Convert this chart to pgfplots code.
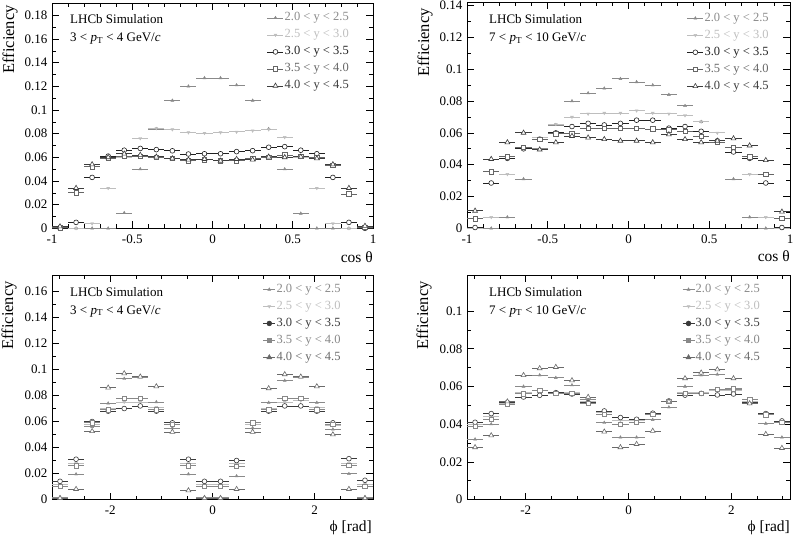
\documentclass[border=0pt]{standalone}
\usepackage{pgfplots}
\pgfplotsset{compat=1.18}
\usepackage{pgfplotstable}
\usepackage{fontspec}
\setmainfont{Liberation Serif}

\definecolor{cA}{HTML}{8A8A8A}
\definecolor{cB}{HTML}{BEBEBE}
\definecolor{cC}{HTML}{222222}
\definecolor{cD}{HTML}{666666}
\definecolor{cE}{HTML}{3C3C3C}
\definecolor{bC}{HTML}{3A3A3A}
\definecolor{bD}{HTML}{888888}
\definecolor{bE}{HTML}{6A6A6A}

\pgfplotstableread{
x A B C D E
-0.95 0 0 0 0.0005 0.0015
-0.85 0 0 0.005 0.030 0.034
-0.75 0 0.004 0.043 0.052 0.054
-0.65 0 0.034 0.061 0.059 0.060
-0.55 0.013 0.060 0.066 0.061 0.063
-0.45 0.050 0.076 0.0675 0.061 0.062
-0.35 0.084 0.0845 0.0665 0.060 0.0605
-0.25 0.108 0.0835 0.0655 0.059 0.059
-0.15 0.120 0.081 0.0628 0.057 0.058
-0.05 0.127 0.0805 0.063 0.058 0.0585
0.05 0.127 0.081 0.063 0.057 0.057
0.15 0.121 0.0815 0.0648 0.057 0.0585
0.25 0.108 0.0825 0.0656 0.059 0.058
0.35 0.084 0.0835 0.0685 0.060 0.0605
0.45 0.050 0.077 0.069 0.062 0.060
0.55 0.0125 0.060 0.066 0.061 0.0605
0.65 0 0.034 0.063 0.060 0.059
0.75 0 0.004 0.043 0.053 0.054
0.85 0 0 0.005 0.029 0.034
0.95 0 0 0 0.001 0.002
}\tabTL

\pgfplotstableread{
x A B C D E
-0.95 0 0 0.0005 0.006 0.011
-0.85 0 0.007 0.0285 0.0355 0.0435
-0.75 0.007 0.034 0.044 0.045 0.054
-0.65 0.031 0.050 0.050 0.051 0.060
-0.55 0.050 0.057 0.056 0.056 0.0495
-0.45 0.065 0.0655 0.060 0.0595 0.054
-0.35 0.080 0.070 0.064 0.0595 0.058
-0.25 0.085 0.072 0.066 0.063 0.057
-0.15 0.088 0.0725 0.065 0.063 0.056
-0.05 0.094 0.0725 0.066 0.063 0.055
0.05 0.092 0.074 0.068 0.063 0.055
0.15 0.090 0.0725 0.068 0.0625 0.054
0.25 0.084 0.072 0.063 0.062 0.059
0.35 0.077 0.071 0.064 0.061 0.056
0.45 0.067 0.067 0.061 0.058 0.054
0.55 0.054 0.060 0.055 0.054 0.055
0.65 0.031 0.051 0.048 0.051 0.0565
0.75 0.007 0.034 0.044 0.045 0.052
0.85 0 0.007 0.0285 0.034 0.0428
0.95 0 0 0.0005 0.0063 0.0104
}\tabTR

\pgfplotstableread{
x A B C D E
-2.9845 0.002 0.012 0.014 0.010 0.001
-2.6704 0.0195 0.028 0.031 0.026 0.008
-2.3562 0.056 0.058 0.060 0.059 0.0525
-2.0420 0.074 0.070 0.068 0.069 0.086
-1.7279 0.093 0.075 0.070 0.078 0.097
-1.4137 0.094 0.075 0.072 0.078 0.0945
-1.0996 0.075 0.071 0.068 0.069 0.087
-0.7854 0.055 0.058 0.059 0.058 0.052
-0.4712 0.0195 0.028 0.031 0.026 0.007
-0.1571 0.002 0.012 0.014 0.010 0.001
0.1571 0.002 0.012 0.014 0.010 0.001
0.4712 0.018 0.028 0.030 0.0255 0.008
0.7854 0.055 0.058 0.059 0.059 0.052
1.0996 0.0745 0.070 0.068 0.069 0.0855
1.4137 0.0915 0.075 0.072 0.078 0.0963
1.7279 0.094 0.076 0.072 0.078 0.0945
2.0420 0.0745 0.071 0.068 0.069 0.087
2.3562 0.054 0.057 0.059 0.058 0.050
2.6704 0.0197 0.028 0.0314 0.0265 0.008
2.9845 0.002 0.012 0.0148 0.010 0.001
}\tabBL

\pgfplotstableread{
x A B C D E
-2.9845 0.032 0.040 0.041 0.039 0.0277
-2.6704 0.040 0.044 0.0456 0.0426 0.034
-2.3562 0.052 0.051 0.0515 0.0505 0.052
-2.0420 0.060 0.057 0.0544 0.0562 0.066
-1.7279 0.066 0.058 0.0553 0.058 0.0696
-1.4137 0.0646 0.057 0.0567 0.0565 0.0703
-1.0996 0.0607 0.057 0.056 0.0565 0.0632
-0.7854 0.053 0.052 0.0514 0.0512 0.0544
-0.4712 0.0408 0.046 0.047 0.0452 0.036
-0.1571 0.033 0.042 0.0435 0.040 0.0277
0.1571 0.033 0.042 0.0426 0.041 0.0294
0.4712 0.0423 0.045 0.0458 0.0452 0.0364
0.7854 0.049 0.052 0.0523 0.052 0.052
1.0996 0.060 0.057 0.0554 0.0565 0.0643
1.4137 0.066 0.057 0.0563 0.0563 0.0673
1.7279 0.0664 0.058 0.0555 0.0585 0.069
2.0420 0.0585 0.058 0.056 0.0588 0.0643
2.3562 0.052 0.052 0.0515 0.053 0.051
2.6704 0.0403 0.045 0.0456 0.045 0.0347
2.9845 0.033 0.041 0.0417 0.041 0.0273
}\tabBR

\pgfplotsset{
  effbase/.style={
    scale only axis, anchor=south west,
    axis line style={line width=0.8pt},
    every tick/.style={line width=0.6pt, black},
    major tick length=7pt, minor tick length=4pt,
    tick label style={font=\fontsize{13}{15}\selectfont},
    xticklabel style={yshift=-3pt},
    yticklabel style={xshift=-1pt},
    scaled y ticks=false, scaled x ticks=false,
    ymin=0, minor y tick num=1,
    error bars/x dir=both,
    error bars/error mark=none,
    error bars/error bar style={line width=0.8pt},
    legend cell align=left,
    legend style={draw=none, fill=none, anchor=north west, inner sep=0pt,
      font=\fontsize{12.5}{14}\selectfont, row sep=3pt,
      nodes={inner sep=1pt, text height=9pt, text depth=3pt}},
  },
  costh/.style={effbase, xmin=-1, xmax=1, xtick={-1,-0.5,0,0.5,1},
    xticklabels={-1,-0.5,0,0.5,1}, minor x tick num=4,
    error bars/x fixed=0.05,
    legend image code/.code={\draw[##1, mark=none] (0pt,0pt) -- (16pt,0pt);
      \draw[##1, only marks] plot coordinates {(8pt,0pt)};}},
  phiax/.style={effbase, xmin=-3.14159, xmax=3.14159, xtick={-2,0,2},
    xticklabels={-2,0,2},
    minor xtick={-3,-2.5,-1.5,-1,-0.5,0.5,1,1.5,2.5,3},
    error bars/x fixed=0.15708,
    legend image code/.code={\draw[##1, mark=none] (0pt,0pt) -- (12pt,0pt);
      \draw[##1, only marks] plot coordinates {(6pt,0pt)};}},
  sA/.style={color=cA, only marks, mark=triangle*, mark size=1.7pt},
  sB/.style={color=cB, only marks, mark=triangle*, mark size=1.7pt, mark options={rotate=180}},
}

\newcommand{\lhcbfont}{\fontsize{13}{15}\selectfont}
\newcommand{\titfont}{\fontsize{16.5}{19}\selectfont}
\newcommand{\xtitfont}{\fontsize{15.5}{18}\selectfont}

\begin{document}
\begin{tikzpicture}[x=1pt,y=1pt]
\path[use as bounding box] (0,0) rectangle (794,536);

% ---------------- top left
\begin{axis}[costh, at={(52pt,307.7pt)}, width=321pt, height=224.8pt, ymax=0.19,
  ytick={0,0.02,0.04,0.06,0.08,0.1,0.12,0.14,0.16,0.18},
  yticklabels={0,0.02,0.04,0.06,0.08,0.1,0.12,0.14,0.16,0.18},
  legend style={at={(rel axis cs:0.67,0.968)}}]
\addplot[sA] table[x=x,y=A] {\tabTL};
\addplot[sB] table[x=x,y=B] {\tabTL};
\addplot[color=cC, only marks, mark=*, mark size=2.4pt, mark options={fill=white, line width=0.6pt}] table[x=x,y=C] {\tabTL};
\addplot[color=cD, only marks, mark=square*, mark size=2.2pt, mark options={fill=white, line width=0.6pt}] table[x=x,y=D] {\tabTL};
\addplot[color=cE, only marks, mark=triangle*, mark size=2.8pt, mark options={fill=white, line width=0.6pt}] table[x=x,y=E] {\tabTL};
\addlegendentry{\textcolor{cA}{2.0 < y < 2.5}}
\addlegendentry{\textcolor{cB}{2.5 < y < 3.0}}
\addlegendentry{\textcolor{cC}{3.0 < y < 3.5}}
\addlegendentry{\textcolor{cD}{3.5 < y < 4.0}}
\addlegendentry{\textcolor{cE}{4.0 < y < 4.5}}
\end{axis}

% ---------------- top right
\begin{axis}[costh, at={(467pt,307.7pt)}, width=323pt, height=225.8pt, ymax=0.142,
  ytick={0,0.02,0.04,0.06,0.08,0.1,0.12,0.14},
  yticklabels={0,0.02,0.04,0.06,0.08,0.1,0.12,0.14},
  legend style={at={(rel axis cs:0.681,0.962)}}]
\addplot[sA] table[x=x,y=A] {\tabTR};
\addplot[sB] table[x=x,y=B] {\tabTR};
\addplot[color=cC, only marks, mark=*, mark size=2.4pt, mark options={fill=white, line width=0.6pt}] table[x=x,y=C] {\tabTR};
\addplot[color=cD, only marks, mark=square*, mark size=2.2pt, mark options={fill=white, line width=0.6pt}] table[x=x,y=D] {\tabTR};
\addplot[color=cE, only marks, mark=triangle*, mark size=2.8pt, mark options={fill=white, line width=0.6pt}] table[x=x,y=E] {\tabTR};
\addlegendentry{\textcolor{cA}{2.0 < y < 2.5}}
\addlegendentry{\textcolor{cB}{2.5 < y < 3.0}}
\addlegendentry{\textcolor{cC}{3.0 < y < 3.5}}
\addlegendentry{\textcolor{cD}{3.5 < y < 4.0}}
\addlegendentry{\textcolor{cE}{4.0 < y < 4.5}}
\end{axis}

% ---------------- bottom left
\begin{axis}[phiax, at={(52pt,36.5pt)}, width=321pt, height=224.2pt, ymax=0.1725,
  ytick={0,0.02,0.04,0.06,0.08,0.1,0.12,0.14,0.16},
  yticklabels={0,0.02,0.04,0.06,0.08,0.1,0.12,0.14,0.16},
  legend style={at={(rel axis cs:0.657,0.969)}}]
\addplot[sA] table[x=x,y=A] {\tabBL};
\addplot[sB] table[x=x,y=B] {\tabBL};
\addplot[color=bC, only marks, mark=*, mark size=2.4pt, mark options={fill=white, line width=0.6pt},
  legend image post style={mark options={fill=bC, line width=0.6pt}}] table[x=x,y=C] {\tabBL};
\addplot[color=bD, only marks, mark=square*, mark size=2.2pt, mark options={fill=white, line width=0.6pt},
  legend image post style={mark options={fill=bD, line width=0.6pt}}] table[x=x,y=D] {\tabBL};
\addplot[color=bE, only marks, mark=triangle*, mark size=2.8pt, mark options={fill=white, line width=0.6pt},
  legend image post style={mark options={fill=bE, line width=0.6pt}}] table[x=x,y=E] {\tabBL};
\addlegendentry{\textcolor{cA}{2.0 < y < 2.5}}
\addlegendentry{\textcolor{cB}{2.5 < y < 3.0}}
\addlegendentry{\textcolor{bC}{3.0 < y < 3.5}}
\addlegendentry{\textcolor{bD}{3.5 < y < 4.0}}
\addlegendentry{\textcolor{bE}{4.0 < y < 4.5}}
\end{axis}

% ---------------- bottom right
\begin{axis}[phiax, at={(467pt,36.5pt)}, width=323pt, height=224.2pt, ymax=0.119,
  ytick={0,0.02,0.04,0.06,0.08,0.1},
  yticklabels={0,0.02,0.04,0.06,0.08,0.1},
  legend style={at={(rel axis cs:0.666,0.969)}}]
\addplot[sA] table[x=x,y=A] {\tabBR};
\addplot[sB] table[x=x,y=B] {\tabBR};
\addplot[color=bC, only marks, mark=*, mark size=2.4pt, mark options={fill=white, line width=0.6pt},
  legend image post style={mark options={fill=bC, line width=0.6pt}}] table[x=x,y=C] {\tabBR};
\addplot[color=bD, only marks, mark=square*, mark size=2.2pt, mark options={fill=white, line width=0.6pt},
  legend image post style={mark options={fill=bD, line width=0.6pt}}] table[x=x,y=D] {\tabBR};
\addplot[color=bE, only marks, mark=triangle*, mark size=2.8pt, mark options={fill=white, line width=0.6pt},
  legend image post style={mark options={fill=bE, line width=0.6pt}}] table[x=x,y=E] {\tabBR};
\addlegendentry{\textcolor{cA}{2.0 < y < 2.5}}
\addlegendentry{\textcolor{cB}{2.5 < y < 3.0}}
\addlegendentry{\textcolor{bC}{3.0 < y < 3.5}}
\addlegendentry{\textcolor{bD}{3.5 < y < 4.0}}
\addlegendentry{\textcolor{bE}{4.0 < y < 4.5}}
\end{axis}

% ---------------- texts
\node[anchor=base west, inner sep=0pt, font=\lhcbfont] at (70,512) {LHCb Simulation};
\node[anchor=base west, inner sep=0pt, font=\lhcbfont] at (70,494) {3 < \textit{p}\textsubscript{T} < 4 GeV/\textit{c}};
\node[anchor=base west, inner sep=0pt, font=\lhcbfont] at (489,512) {LHCb Simulation};
\node[anchor=base west, inner sep=0pt, font=\lhcbfont] at (489,494) {7 < \textit{p}\textsubscript{T} < 10 GeV/\textit{c}};
\node[anchor=base west, inner sep=0pt, font=\lhcbfont] at (70,240) {LHCb Simulation};
\node[anchor=base west, inner sep=0pt, font=\lhcbfont] at (70,222) {3 < \textit{p}\textsubscript{T} < 4 GeV/\textit{c}};
\node[anchor=base west, inner sep=0pt, font=\lhcbfont] at (489,240) {LHCb Simulation};
\node[anchor=base west, inner sep=0pt, font=\lhcbfont] at (489,222) {7 < \textit{p}\textsubscript{T} < 10 GeV/\textit{c}};

\node[rotate=90, anchor=east, inner sep=0pt, font=\titfont] at (10,531) {Efficiency};
\node[rotate=90, anchor=east, inner sep=0pt, font=\titfont] at (425,528) {Efficiency};
\node[rotate=90, anchor=east, inner sep=0pt, font=\titfont] at (9,255) {Efficiency};
\node[rotate=90, anchor=east, inner sep=0pt, font=\titfont] at (424,255) {Efficiency};

\node[anchor=base east, inner sep=0pt, font=\xtitfont] at (373,274) {cos θ};
\node[anchor=base east, inner sep=0pt, font=\xtitfont] at (790,275) {cos θ};
\node[anchor=base east, inner sep=0pt, font=\xtitfont] at (372,5) {ϕ [rad]};
\node[anchor=base east, inner sep=0pt, font=\xtitfont] at (790,5) {ϕ [rad]};
\end{tikzpicture}
\end{document}
